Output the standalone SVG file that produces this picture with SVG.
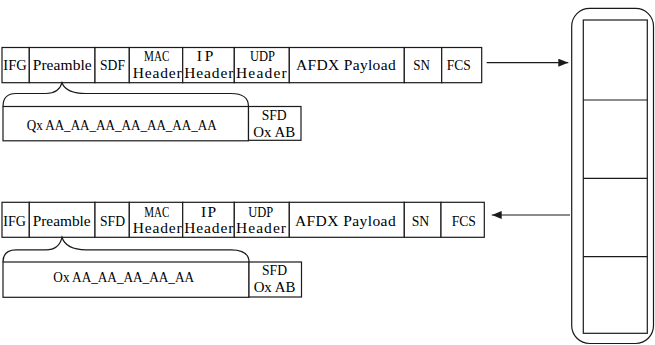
<svg xmlns="http://www.w3.org/2000/svg" width="655" height="345" viewBox="0 0 655 345">
<style>
.b{fill:#fff;stroke:#1a1a1a;stroke-width:1.2}
.l{fill:none;stroke:#1a1a1a;stroke-width:1.2}
.t{font-family:"Liberation Serif","DejaVu Serif",serif;font-size:15.5px;fill:#000;text-anchor:middle}
</style>
<defs>
<marker id="ah" viewBox="0 0 10 8" refX="10" refY="4" markerWidth="10" markerHeight="8" markerUnits="userSpaceOnUse" orient="auto">
<path d="M0,0 L10,4 L0,8 Z" fill="#1a1a1a"/>
</marker>
</defs>
<rect width="655" height="345" fill="#fff"/>

<!-- top frame -->
<g id="frame1">
<g id="f1-ifg"><rect class="b" x="2" y="47.5" width="27.3" height="35.2"/><text class="t" x="15" y="69.5" textLength="23.4" lengthAdjust="spacingAndGlyphs">IFG</text></g>
<g id="f1-preamble"><rect class="b" x="29.3" y="47.5" width="65.7" height="35.2"/><text class="t" x="62.2" y="69.5" textLength="59" lengthAdjust="spacing">Preamble</text></g>
<g id="f1-sdf"><rect class="b" x="95" y="47.5" width="34.3" height="35.2"/><text class="t" x="112.5" y="69.5" textLength="25" lengthAdjust="spacingAndGlyphs">SDF</text></g>
<g id="f1-mac"><rect class="b" x="129.3" y="47.5" width="53.4" height="35.2"/><text class="t" x="156.7" y="60.7" textLength="25.3" lengthAdjust="spacingAndGlyphs">MAC</text><text class="t" x="157.2" y="77.7" textLength="49" lengthAdjust="spacing">Header</text></g>
<g id="f1-ip"><rect class="b" x="182.7" y="47.5" width="51.6" height="35.2"/><text class="t" x="205" y="60.7" textLength="16.6" lengthAdjust="spacing">IP</text><text class="t" x="208.8" y="77.7" textLength="49" lengthAdjust="spacing">Header</text></g>
<g id="f1-udp"><rect class="b" x="234.3" y="47.5" width="55" height="35.2"/><text class="t" x="262.5" y="60.7" textLength="25" lengthAdjust="spacingAndGlyphs">UDP</text><text class="t" x="261.3" y="77.7" textLength="50.7" lengthAdjust="spacing">Header</text></g>
<g id="f1-payload"><rect class="b" x="289.3" y="47.5" width="115" height="35.2"/><text class="t" x="345.8" y="69.5" textLength="99.7" lengthAdjust="spacing">AFDX Payload</text></g>
<g id="f1-sn"><rect class="b" x="404.3" y="47.5" width="37.4" height="35.2"/><text class="t" x="421.7" y="69.5" textLength="16.7" lengthAdjust="spacingAndGlyphs">SN</text></g>
<g id="f1-fcs"><rect class="b" x="441.7" y="47.5" width="40" height="35.2"/><text class="t" x="458.7" y="69.5" textLength="24" lengthAdjust="spacingAndGlyphs">FCS</text></g>
</g>
<g id="pre1"><rect class="b" x="3" y="106.5" width="245.5" height="34.3"/><text class="t" x="121.7" y="130" textLength="190" lengthAdjust="spacingAndGlyphs">Qx AA_AA_AA_AA_AA_AA_AA</text></g>
<g id="sfd1"><rect class="b" x="248.5" y="106.5" width="52.5" height="33.8"/><text class="t" x="274.2" y="120" textLength="25" lengthAdjust="spacingAndGlyphs">SFD</text><text class="t" x="274.2" y="136.7" textLength="41.7" lengthAdjust="spacingAndGlyphs">Ox AB</text></g>

<!-- bottom frame -->
<g id="frame2">
<g id="f2-ifg"><rect class="b" x="2" y="202.3" width="27.3" height="35"/><text class="t" x="14.7" y="225.5" textLength="22.7" lengthAdjust="spacingAndGlyphs">IFG</text></g>
<g id="f2-preamble"><rect class="b" x="29.3" y="202.3" width="65.7" height="35"/><text class="t" x="61.7" y="225.5" textLength="58" lengthAdjust="spacingAndGlyphs">Preamble</text></g>
<g id="f2-sfd"><rect class="b" x="95" y="202.3" width="34.3" height="35"/><text class="t" x="112.5" y="225.5" textLength="25" lengthAdjust="spacingAndGlyphs">SFD</text></g>
<g id="f2-mac"><rect class="b" x="129.3" y="202.3" width="53.4" height="35"/><text class="t" x="156.8" y="216.7" textLength="25" lengthAdjust="spacingAndGlyphs">MAC</text><text class="t" x="157.2" y="233.3" textLength="49" lengthAdjust="spacing">Header</text></g>
<g id="f2-ip"><rect class="b" x="182.7" y="202.3" width="51.6" height="35"/><text class="t" x="208.5" y="216.7" textLength="15" lengthAdjust="spacing">IP</text><text class="t" x="208.8" y="233.3" textLength="49" lengthAdjust="spacing">Header</text></g>
<g id="f2-udp"><rect class="b" x="234.3" y="202.3" width="55" height="35"/><text class="t" x="260.8" y="216.7" textLength="25" lengthAdjust="spacingAndGlyphs">UDP</text><text class="t" x="261" y="233.3" textLength="50" lengthAdjust="spacing">Header</text></g>
<g id="f2-payload"><rect class="b" x="289.3" y="202.3" width="115" height="35"/><text class="t" x="345.3" y="225.5" textLength="100.7" lengthAdjust="spacing">AFDX Payload</text></g>
<g id="f2-sn"><rect class="b" x="404.3" y="202.3" width="36.7" height="35"/><text class="t" x="420.5" y="225.5" textLength="17.6" lengthAdjust="spacingAndGlyphs">SN</text></g>
<g id="f2-fcs"><rect class="b" x="441" y="202.3" width="43.3" height="35"/><text class="t" x="463.8" y="225.5" textLength="24.3" lengthAdjust="spacingAndGlyphs">FCS</text></g>
</g>
<g id="pre2"><rect class="b" x="3" y="262" width="246" height="35.3"/><text class="t" x="123.7" y="281.7" textLength="140.7" lengthAdjust="spacingAndGlyphs">Ox AA_AA_AA_AA_AA</text></g>
<g id="sfd2"><rect class="b" x="249" y="262" width="52.5" height="35"/><text class="t" x="274.5" y="275" textLength="25" lengthAdjust="spacingAndGlyphs">SFD</text><text class="t" x="274.5" y="291.7" textLength="41.7" lengthAdjust="spacingAndGlyphs">Ox AB</text></g>

<!-- switch buffer -->
<g id="buffer">
<rect class="l" x="571.7" y="8.3" width="81.8" height="335.2" rx="18" ry="18"/>
<rect class="b" x="583.3" y="20" width="64" height="313.3"/>
<line class="l" x1="583.3" y1="100" x2="647.3" y2="100"/>
<line class="l" x1="583.3" y1="178.3" x2="647.3" y2="178.3"/>
<line class="l" x1="583.3" y1="256.7" x2="647.3" y2="256.7"/>
</g>

<!-- connectors -->
<g id="connectors">
<path class="l" d="M3,106.5 Q3,93.5 16,93.5 L46,93.5 Q59,93.5 62,82.7 Q66,93.5 86,93.5 L231,93.5 Q248.5,93.5 248.5,106.5"/>
<path class="l" d="M3,262 Q3,249.8 16,249.8 L46,249.8 Q59,249.8 62,237.3 Q66,249.8 86,249.8 L231,249.8 Q249,249.8 249,262"/>
<line class="l" x1="486.7" y1="62.7" x2="568.3" y2="62.7" marker-end="url(#ah)"/>
<line class="l" x1="570" y1="215" x2="491.7" y2="215" marker-end="url(#ah)"/>
</g>
</svg>
